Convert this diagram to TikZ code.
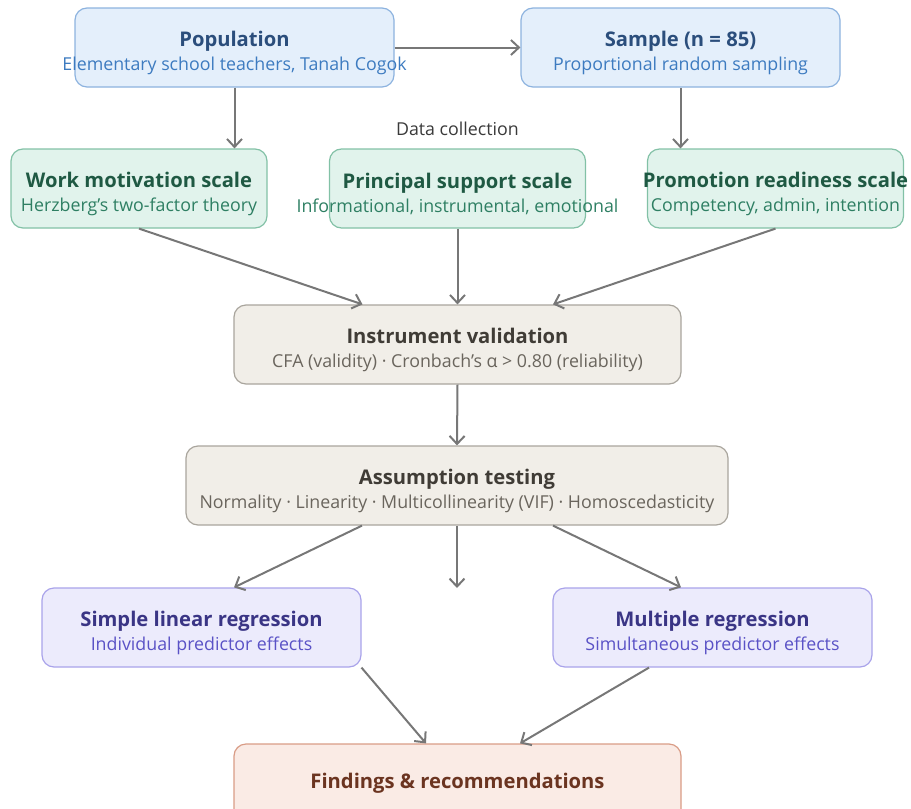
\documentclass[tikz,border=0pt]{standalone}
\usepackage{fontspec}
\setmainfont{Open Sans}
\usetikzlibrary{arrows.meta}
\definecolor{bluefill}{HTML}{E4EFFB}
\definecolor{blueline}{HTML}{8DB3DF}
\definecolor{bluetitle}{HTML}{2B4E7C}
\definecolor{bluesub}{HTML}{3D7BC0}
\definecolor{greenfill}{HTML}{E1F3EC}
\definecolor{greenline}{HTML}{82C1A6}
\definecolor{greentitle}{HTML}{1F5943}
\definecolor{greensub}{HTML}{2E7F63}
\definecolor{sandfill}{HTML}{F1EEE8}
\definecolor{sandline}{HTML}{A9A59D}
\definecolor{sandtitle}{HTML}{403C36}
\definecolor{sandsub}{HTML}{6A655D}
\definecolor{lilacfill}{HTML}{ECEBFC}
\definecolor{lilacline}{HTML}{A9A3EA}
\definecolor{lilactitle}{HTML}{3A3585}
\definecolor{lilacsub}{HTML}{5A52C6}
\definecolor{peachfill}{HTML}{FAEBE5}
\definecolor{peachline}{HTML}{D99C86}
\definecolor{peachtitle}{HTML}{6B3420}
\definecolor{arrowgray}{HTML}{777777}
\definecolor{labelgray}{HTML}{3A3A3A}
\tikzset{>={Straight Barb[length=4pt,width=7.5pt]}}
\tikzset{box/.style={rounded corners=6pt,draw,line width=0.6pt,minimum width=159.5pt,minimum height=39.5pt,align=center,inner sep=0pt}}
\tikzset{bluebox/.style={box,fill=bluefill,draw=blueline,text=bluetitle}}
\tikzset{greenbox/.style={box,fill=greenfill,draw=greenline,text=greentitle,minimum width=128pt}}
\tikzset{sandbox/.style={box,fill=sandfill,draw=sandline,text=sandtitle}}
\tikzset{lilacbox/.style={box,fill=lilacfill,draw=lilacline,text=lilactitle}}
\tikzset{peachbox/.style={box,fill=peachfill,draw=peachline,text=peachtitle}}
\tikzset{flow/.style={->,draw=arrowgray,line width=1pt}}
\newcommand{\boxtitle}[1]{{\fontsize{10.1}{11}\selectfont\bfseries\rule{0pt}{13.5pt}#1}}
\newcommand{\boxsub}[2]{\makebox[0pt]{\fontsize{8.9}{10}\selectfont\color{#1}#2}}

\begin{document}
\begin{tikzpicture}[x=0.5pt,y=-0.5pt]
                    \useasboundingbox (0,0) rectangle (911,809);

                    \node[bluebox] (pop) at (234.5,47.5) {\boxtitle{Population}\\\boxsub{bluesub}{Elementary school teachers, Tanah Cogok}};
                    \node[bluebox] (sample) at (680.5,47.5) {\boxtitle{Sample (n = 85)}\\\boxsub{bluesub}{Proportional random sampling}};

                    \node[text=labelgray,font=\fontsize{8.9}{10}\selectfont] (collect) at (457.5,129) {Data collection};

                    \node[greenbox] (work) at (139,188.5) {\boxtitle{Work motivation scale}\\\boxsub{greensub}{Herzberg's two-factor theory}};
                    \node[greenbox] (principal) at (457.5,188.5) {\boxtitle{Principal support scale}\\\boxsub{greensub}{Informational, instrumental, emotional}};
                    \node[greenbox] (promo) at (775.5,188.5) {\makebox[0pt]{\boxtitle{Promotion readiness scale}}\\\boxsub{greensub}{Competency, admin, intention}};

                    \node[sandbox,minimum width=223.5pt] (valid) at (457.5,344.5) {\boxtitle{Instrument validation}\\\boxsub{sandsub}{CFA (validity) · Cronbach's α > 0.80 (reliability)}};
                    \node[sandbox,minimum width=271pt] (assume) at (457,485.5) {\boxtitle{Assumption testing}\\\boxsub{sandsub}{Normality · Linearity · Multicollinearity (VIF) · Homoscedasticity}};

                    \node[lilacbox] (simple) at (201.5,627.5) {\boxtitle{Simple linear regression}\\\boxsub{lilacsub}{Individual predictor effects}};
                    \node[lilacbox] (multi) at (712.5,627.5) {\boxtitle{Multiple regression}\\\boxsub{lilacsub}{Simultaneous predictor effects}};

                    \node[peachbox,minimum width=223.5pt] (findings) at (457.5,783.5) {{\fontsize{10.1}{11}\selectfont\bfseries Findings \& recommendations}};

                    \coordinate (gap) at (457,588);

                    \draw[flow] (pop.east) -- (sample.west);
                    \draw[flow] (pop.south) -- (pop.south |- work.north);
                    \draw[flow] (sample.south) -- (sample.south |- promo.north);
                    \draw[flow] (work.south) -- ([xshift=-47.5pt]valid.north);
                    \draw[flow] (principal.south) -- (valid.north);
                    \draw[flow] (promo.south) -- ([xshift=47.75pt]valid.north);
                    \draw[flow] (valid.south) -- (assume.north);
                    \draw[flow] ([xshift=-47.5pt]assume.south) -- ([xshift=16.25pt]simple.north);
                    \draw[flow] (assume.south) -- (gap);
                    \draw[flow] ([xshift=48pt]assume.south) -- ([xshift=-15.75pt]multi.north);
                    \draw[flow] ([xshift=80pt]simple.south) -- ([xshift=-15.75pt]findings.north);
                    \draw[flow] ([xshift=-31.75pt]multi.south) -- ([xshift=31.25pt]findings.north);
                \end{tikzpicture}
\end{document}
